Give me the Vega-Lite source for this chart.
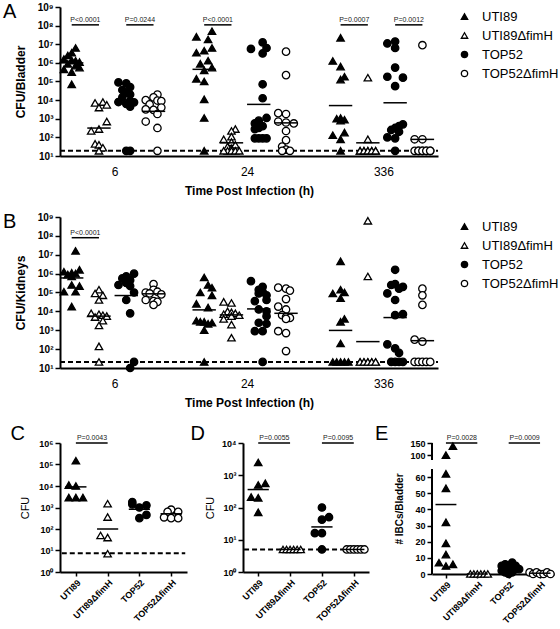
{
"$schema":"https://vega.github.io/schema/vega-lite/v6.json",
"padding":{"left":2,"top":2,"right":0,"bottom":0},
"config":{"font":"Liberation Sans","view":{"stroke":null},
"axis":{"domainColor":"black","domainWidth":2,"tickColor":"black","tickWidth":1.5,"tickSize":5,"labelColor":"black","titleColor":"black","grid":false},
"legend":{"labelFontSize":13,"symbolSize":40,"symbolStrokeColor":"black","symbolStrokeWidth":1.3,"rowPadding":5,"labelOffset":11,"padding":0},
"title":{"anchor":"start","frame":"bounds","fontSize":20,"fontWeight":"normal","offset":0,"color":"black"}},
"datasets":{
"pts":[
{"p":"A","t":"6","s":"U","j":1,"v":6.3e6},{"p":"A","t":"6","s":"U","j":0,"v":3.5e6},{"p":"A","t":"6","s":"U","j":-1,"v":2.5e6},{"p":"A","t":"6","s":"U","j":-2,"v":1.6e6},{"p":"A","t":"6","s":"U","j":0,"v":1.4e6},{"p":"A","t":"6","s":"U","j":1,"v":1.3e6},{"p":"A","t":"6","s":"U","j":2,"v":1.1e6},{"p":"A","t":"6","s":"U","j":-1,"v":8.9e5},{"p":"A","t":"6","s":"U","j":1,"v":7.1e5},{"p":"A","t":"6","s":"U","j":2,"v":5.6e5},{"p":"A","t":"6","s":"U","j":-2,"v":4.5e5},{"p":"A","t":"6","s":"U","j":0,"v":3.2e5},{"p":"A","t":"6","s":"U","j":0,"v":7.1e4},
{"p":"A","t":"6","s":"D","j":1,"v":7900},{"p":"A","t":"6","s":"D","j":-1,"v":7100},{"p":"A","t":"6","s":"D","j":2,"v":5600},{"p":"A","t":"6","s":"D","j":0,"v":4000},{"p":"A","t":"6","s":"D","j":2,"v":710},{"p":"A","t":"6","s":"D","j":0,"v":280},{"p":"A","t":"6","s":"D","j":-2,"v":220},{"p":"A","t":"6","s":"D","j":-1,"v":45},{"p":"A","t":"6","s":"D","j":0,"v":40},{"p":"A","t":"6","s":"D","j":1,"v":28},{"p":"A","t":"6","s":"D","j":0,"v":19},
{"p":"A","t":"6","s":"T","j":-2,"v":8.9e4},{"p":"A","t":"6","s":"T","j":0,"v":7.9e4},{"p":"A","t":"6","s":"T","j":1,"v":5e4},{"p":"A","t":"6","s":"T","j":-1,"v":3.5e4},{"p":"A","t":"6","s":"T","j":0,"v":2.5e4},{"p":"A","t":"6","s":"T","j":1,"v":2e4},{"p":"A","t":"6","s":"T","j":-1,"v":1.4e4},{"p":"A","t":"6","s":"T","j":1,"v":8900},{"p":"A","t":"6","s":"T","j":-2,"v":7900},{"p":"A","t":"6","s":"T","j":2,"v":7600},{"p":"A","t":"6","s":"T","j":0,"v":6300},{"p":"A","t":"6","s":"T","j":1,"v":4500},{"p":"A","t":"6","s":"T","j":0,"v":19},{"p":"A","t":"6","s":"T","j":1,"v":19},
{"p":"A","t":"6","s":"O","j":1,"v":2e4},{"p":"A","t":"6","s":"O","j":0,"v":1.4e4},{"p":"A","t":"6","s":"O","j":-2,"v":1e4},{"p":"A","t":"6","s":"O","j":1,"v":9500},{"p":"A","t":"6","s":"O","j":2,"v":8900},{"p":"A","t":"6","s":"O","j":-1,"v":5900},{"p":"A","t":"6","s":"O","j":2,"v":4000},{"p":"A","t":"6","s":"O","j":-2,"v":3200},{"p":"A","t":"6","s":"O","j":0,"v":3000},{"p":"A","t":"6","s":"O","j":1,"v":1800},{"p":"A","t":"6","s":"O","j":-2,"v":710},{"p":"A","t":"6","s":"O","j":1,"v":320},{"p":"A","t":"6","s":"O","j":1,"v":19},
{"p":"A","t":"24","s":"U","j":2,"v":5e7},{"p":"A","t":"24","s":"U","j":-2,"v":2.5e7},{"p":"A","t":"24","s":"U","j":1,"v":1.8e7},{"p":"A","t":"24","s":"U","j":2,"v":6.3e6},{"p":"A","t":"24","s":"U","j":0,"v":4.5e6},{"p":"A","t":"24","s":"U","j":-2,"v":3.5e6},{"p":"A","t":"24","s":"U","j":1,"v":1.3e6},{"p":"A","t":"24","s":"U","j":-1,"v":8.9e5},{"p":"A","t":"24","s":"U","j":2,"v":5.6e5},{"p":"A","t":"24","s":"U","j":0,"v":4e5},{"p":"A","t":"24","s":"U","j":-2,"v":1.4e5},{"p":"A","t":"24","s":"U","j":0,"v":1e5},{"p":"A","t":"24","s":"U","j":0,"v":1.1e4},{"p":"A","t":"24","s":"U","j":0,"v":1100},{"p":"A","t":"24","s":"U","j":0,"v":19},
{"p":"A","t":"24","s":"D","j":1,"v":280},{"p":"A","t":"24","s":"D","j":0,"v":220},{"p":"A","t":"24","s":"D","j":0,"v":110},{"p":"A","t":"24","s":"D","j":-2,"v":79},{"p":"A","t":"24","s":"D","j":0,"v":56},{"p":"A","t":"24","s":"D","j":1,"v":40},{"p":"A","t":"24","s":"D","j":-1,"v":32},{"p":"A","t":"24","s":"D","j":0,"v":25},{"p":"A","t":"24","s":"D","j":-1,"v":19},{"p":"A","t":"24","s":"D","j":0,"v":19},{"p":"A","t":"24","s":"D","j":1,"v":19},{"p":"A","t":"24","s":"D","j":-2,"v":19},{"p":"A","t":"24","s":"D","j":2,"v":19},
{"p":"A","t":"24","s":"T","j":1,"v":1.26e7},{"p":"A","t":"24","s":"T","j":2,"v":6.3e6},{"p":"A","t":"24","s":"T","j":-2,"v":5.6e6},{"p":"A","t":"24","s":"T","j":1,"v":3.2e6},{"p":"A","t":"24","s":"T","j":1,"v":7.1e4},{"p":"A","t":"24","s":"T","j":1,"v":1.26e4},{"p":"A","t":"24","s":"T","j":2,"v":1100},{"p":"A","t":"24","s":"T","j":0,"v":790},{"p":"A","t":"24","s":"T","j":-1,"v":560},{"p":"A","t":"24","s":"T","j":1,"v":400},{"p":"A","t":"24","s":"T","j":0,"v":320},{"p":"A","t":"24","s":"T","j":-1,"v":280},{"p":"A","t":"24","s":"T","j":-1,"v":89},{"p":"A","t":"24","s":"T","j":0,"v":89},{"p":"A","t":"24","s":"T","j":1,"v":89},{"p":"A","t":"24","s":"T","j":2,"v":89},
{"p":"A","t":"24","s":"O","j":0,"v":4e6},{"p":"A","t":"24","s":"O","j":0,"v":2.2e5},{"p":"A","t":"24","s":"O","j":-2,"v":2000},{"p":"A","t":"24","s":"O","j":0,"v":1800},{"p":"A","t":"24","s":"O","j":-2,"v":710},{"p":"A","t":"24","s":"O","j":0,"v":630},{"p":"A","t":"24","s":"O","j":2,"v":560},{"p":"A","t":"24","s":"O","j":0,"v":220},{"p":"A","t":"24","s":"O","j":0,"v":71},{"p":"A","t":"24","s":"O","j":-1,"v":32},{"p":"A","t":"24","s":"O","j":0,"v":22},{"p":"A","t":"24","s":"O","j":1,"v":19},{"p":"A","t":"24","s":"O","j":-1,"v":19},
{"p":"A","t":"336","s":"U","j":0,"v":2.2e7},{"p":"A","t":"336","s":"U","j":-2,"v":1.26e6},{"p":"A","t":"336","s":"U","j":0,"v":6.3e5},{"p":"A","t":"336","s":"U","j":1,"v":1.8e5},{"p":"A","t":"336","s":"U","j":0,"v":1.26e5},{"p":"A","t":"336","s":"U","j":0,"v":1100},{"p":"A","t":"336","s":"U","j":-1,"v":1000},{"p":"A","t":"336","s":"U","j":1,"v":890},{"p":"A","t":"336","s":"U","j":0,"v":790},{"p":"A","t":"336","s":"U","j":1,"v":180},{"p":"A","t":"336","s":"U","j":-2,"v":130},{"p":"A","t":"336","s":"U","j":0,"v":79},{"p":"A","t":"336","s":"U","j":0,"v":19},
{"p":"A","t":"336","s":"D","j":0,"v":1.6e5},{"p":"A","t":"336","s":"D","j":0,"v":79},{"p":"A","t":"336","s":"D","j":-2,"v":19},{"p":"A","t":"336","s":"D","j":-1,"v":19},{"p":"A","t":"336","s":"D","j":0,"v":19},{"p":"A","t":"336","s":"D","j":1,"v":19},{"p":"A","t":"336","s":"D","j":2,"v":19},{"p":"A","t":"336","s":"D","j":-2,"v":19},{"p":"A","t":"336","s":"D","j":-1,"v":19},{"p":"A","t":"336","s":"D","j":0,"v":19},{"p":"A","t":"336","s":"D","j":1,"v":19},{"p":"A","t":"336","s":"D","j":2,"v":19},
{"p":"A","t":"336","s":"T","j":0,"v":1.4e7},{"p":"A","t":"336","s":"T","j":-2,"v":1.1e7},{"p":"A","t":"336","s":"T","j":0,"v":6.3e6},{"p":"A","t":"336","s":"T","j":0,"v":5.6e5},{"p":"A","t":"336","s":"T","j":-2,"v":1.8e5},{"p":"A","t":"336","s":"T","j":2,"v":1.6e5},{"p":"A","t":"336","s":"T","j":0,"v":5.6e4},{"p":"A","t":"336","s":"T","j":2,"v":500},{"p":"A","t":"336","s":"T","j":1,"v":400},{"p":"A","t":"336","s":"T","j":0,"v":320},{"p":"A","t":"336","s":"T","j":-1,"v":250},{"p":"A","t":"336","s":"T","j":1,"v":200},{"p":"A","t":"336","s":"T","j":-2,"v":100},{"p":"A","t":"336","s":"T","j":0,"v":89},{"p":"A","t":"336","s":"T","j":0,"v":19},
{"p":"A","t":"336","s":"O","j":0,"v":8.9e6},{"p":"A","t":"336","s":"O","j":-2,"v":79},{"p":"A","t":"336","s":"O","j":0,"v":79},{"p":"A","t":"336","s":"O","j":-2,"v":19},{"p":"A","t":"336","s":"O","j":-1,"v":19},{"p":"A","t":"336","s":"O","j":0,"v":19},{"p":"A","t":"336","s":"O","j":1,"v":19},{"p":"A","t":"336","s":"O","j":2,"v":19},{"p":"A","t":"336","s":"O","j":-1,"v":19},{"p":"A","t":"336","s":"O","j":0,"v":19},{"p":"A","t":"336","s":"O","j":1,"v":19},{"p":"A","t":"336","s":"O","j":2,"v":19},
{"p":"B","t":"6","s":"U","j":1,"v":1.6e7},{"p":"B","t":"6","s":"U","j":2,"v":1.6e6},{"p":"B","t":"6","s":"U","j":-2,"v":1.26e6},{"p":"B","t":"6","s":"U","j":0,"v":1.1e6},{"p":"B","t":"6","s":"U","j":1,"v":1e6},{"p":"B","t":"6","s":"U","j":-1,"v":8.9e5},{"p":"B","t":"6","s":"U","j":0,"v":7.1e5},{"p":"B","t":"6","s":"U","j":0,"v":2.5e5},{"p":"B","t":"6","s":"U","j":2,"v":2.2e5},{"p":"B","t":"6","s":"U","j":-2,"v":1.1e5},{"p":"B","t":"6","s":"U","j":1,"v":1.1e5},{"p":"B","t":"6","s":"U","j":0,"v":1.8e4},
{"p":"B","t":"6","s":"D","j":0,"v":1.4e5},{"p":"B","t":"6","s":"D","j":-1,"v":8.9e4},{"p":"B","t":"6","s":"D","j":1,"v":7.1e4},{"p":"B","t":"6","s":"D","j":0,"v":4e4},{"p":"B","t":"6","s":"D","j":-2,"v":7900},{"p":"B","t":"6","s":"D","j":0,"v":7100},{"p":"B","t":"6","s":"D","j":1,"v":6300},{"p":"B","t":"6","s":"D","j":2,"v":5600},{"p":"B","t":"6","s":"D","j":-1,"v":5000},{"p":"B","t":"6","s":"D","j":1,"v":3200},{"p":"B","t":"6","s":"D","j":0,"v":1800},{"p":"B","t":"6","s":"D","j":0,"v":140},{"p":"B","t":"6","s":"D","j":0,"v":21},
{"p":"B","t":"6","s":"T","j":2,"v":1e6},{"p":"B","t":"6","s":"T","j":0,"v":7.1e5},{"p":"B","t":"6","s":"T","j":-1,"v":5.6e5},{"p":"B","t":"6","s":"T","j":1,"v":4.5e5},{"p":"B","t":"6","s":"T","j":0,"v":3.2e5},{"p":"B","t":"6","s":"T","j":-2,"v":2.5e5},{"p":"B","t":"6","s":"T","j":1,"v":2.2e5},{"p":"B","t":"6","s":"T","j":2,"v":1e5},{"p":"B","t":"6","s":"T","j":0,"v":4e4},{"p":"B","t":"6","s":"T","j":1,"v":7900},{"p":"B","t":"6","s":"T","j":2,"v":21},{"p":"B","t":"6","s":"T","j":1,"v":10},
{"p":"B","t":"6","s":"O","j":0,"v":2.8e5},{"p":"B","t":"6","s":"O","j":0,"v":1.4e5},{"p":"B","t":"6","s":"O","j":1,"v":1.1e5},{"p":"B","t":"6","s":"O","j":-2,"v":1e5},{"p":"B","t":"6","s":"O","j":-1,"v":8.9e4},{"p":"B","t":"6","s":"O","j":2,"v":7.9e4},{"p":"B","t":"6","s":"O","j":-2,"v":4e4},{"p":"B","t":"6","s":"O","j":0,"v":3.5e4},{"p":"B","t":"6","s":"O","j":1,"v":3.2e4},{"p":"B","t":"6","s":"O","j":0,"v":2.2e4},
{"p":"B","t":"24","s":"U","j":0,"v":6.3e5},{"p":"B","t":"24","s":"U","j":1,"v":2.5e5},{"p":"B","t":"24","s":"U","j":2,"v":1.8e5},{"p":"B","t":"24","s":"U","j":-1,"v":1e5},{"p":"B","t":"24","s":"U","j":2,"v":7.1e4},{"p":"B","t":"24","s":"U","j":-2,"v":2.5e4},{"p":"B","t":"24","s":"U","j":1,"v":1.6e4},{"p":"B","t":"24","s":"U","j":-2,"v":3200},{"p":"B","t":"24","s":"U","j":-1,"v":2800},{"p":"B","t":"24","s":"U","j":0,"v":2800},{"p":"B","t":"24","s":"U","j":2,"v":2500},{"p":"B","t":"24","s":"U","j":1,"v":2200},{"p":"B","t":"24","s":"U","j":0,"v":1000},{"p":"B","t":"24","s":"U","j":0,"v":21},
{"p":"B","t":"24","s":"D","j":-2,"v":3.2e4},{"p":"B","t":"24","s":"D","j":0,"v":2.8e4},{"p":"B","t":"24","s":"D","j":-1,"v":1e4},{"p":"B","t":"24","s":"D","j":0,"v":8900},{"p":"B","t":"24","s":"D","j":1,"v":7900},{"p":"B","t":"24","s":"D","j":-2,"v":7100},{"p":"B","t":"24","s":"D","j":2,"v":6300},{"p":"B","t":"24","s":"D","j":0,"v":5600},{"p":"B","t":"24","s":"D","j":-2,"v":4000},{"p":"B","t":"24","s":"D","j":0,"v":2000},{"p":"B","t":"24","s":"D","j":0,"v":400},
{"p":"B","t":"24","s":"T","j":-2,"v":4e5},{"p":"B","t":"24","s":"T","j":1,"v":2e5},{"p":"B","t":"24","s":"T","j":0,"v":1.4e5},{"p":"B","t":"24","s":"T","j":1,"v":1.1e5},{"p":"B","t":"24","s":"T","j":0,"v":8.9e4},{"p":"B","t":"24","s":"T","j":2,"v":7.1e4},{"p":"B","t":"24","s":"T","j":2,"v":4e4},{"p":"B","t":"24","s":"T","j":-1,"v":3.5e4},{"p":"B","t":"24","s":"T","j":0,"v":1.26e4},{"p":"B","t":"24","s":"T","j":2,"v":1e4},{"p":"B","t":"24","s":"T","j":2,"v":5600},{"p":"B","t":"24","s":"T","j":0,"v":2500},{"p":"B","t":"24","s":"T","j":2,"v":2200},{"p":"B","t":"24","s":"T","j":-1,"v":890},{"p":"B","t":"24","s":"T","j":1,"v":890},{"p":"B","t":"24","s":"T","j":1,"v":21},
{"p":"B","t":"24","s":"O","j":-2,"v":1.8e5},{"p":"B","t":"24","s":"O","j":0,"v":1.6e5},{"p":"B","t":"24","s":"O","j":1,"v":1.26e5},{"p":"B","t":"24","s":"O","j":0,"v":4.5e4},{"p":"B","t":"24","s":"O","j":-2,"v":1.8e4},{"p":"B","t":"24","s":"O","j":0,"v":1.26e4},{"p":"B","t":"24","s":"O","j":-1,"v":6300},{"p":"B","t":"24","s":"O","j":0,"v":5000},{"p":"B","t":"24","s":"O","j":1,"v":4500},{"p":"B","t":"24","s":"O","j":0,"v":4000},{"p":"B","t":"24","s":"O","j":-2,"v":890},{"p":"B","t":"24","s":"O","j":0,"v":710},{"p":"B","t":"24","s":"O","j":0,"v":79},
{"p":"B","t":"336","s":"U","j":0,"v":4.5e6},{"p":"B","t":"336","s":"U","j":0,"v":1.4e5},{"p":"B","t":"336","s":"U","j":1,"v":1e5},{"p":"B","t":"336","s":"U","j":-2,"v":8.9e4},{"p":"B","t":"336","s":"U","j":0,"v":5e4},{"p":"B","t":"336","s":"U","j":1,"v":4000},{"p":"B","t":"336","s":"U","j":0,"v":2800},{"p":"B","t":"336","s":"U","j":0,"v":200},{"p":"B","t":"336","s":"U","j":-2,"v":21},{"p":"B","t":"336","s":"U","j":-1,"v":21},{"p":"B","t":"336","s":"U","j":0,"v":21},{"p":"B","t":"336","s":"U","j":1,"v":21},{"p":"B","t":"336","s":"U","j":2,"v":21},
{"p":"B","t":"336","s":"D","j":0,"v":6.3e8},{"p":"B","t":"336","s":"D","j":0,"v":7.1e5},{"p":"B","t":"336","s":"D","j":-2,"v":21},{"p":"B","t":"336","s":"D","j":-1,"v":21},{"p":"B","t":"336","s":"D","j":0,"v":21},{"p":"B","t":"336","s":"D","j":1,"v":21},{"p":"B","t":"336","s":"D","j":2,"v":21},{"p":"B","t":"336","s":"D","j":-2,"v":21},{"p":"B","t":"336","s":"D","j":-1,"v":21},{"p":"B","t":"336","s":"D","j":0,"v":21},{"p":"B","t":"336","s":"D","j":1,"v":21},{"p":"B","t":"336","s":"D","j":2,"v":21},
{"p":"B","t":"336","s":"T","j":0,"v":1.6e6},{"p":"B","t":"336","s":"T","j":0,"v":2.8e5},{"p":"B","t":"336","s":"T","j":-1,"v":2.5e5},{"p":"B","t":"336","s":"T","j":2,"v":2e5},{"p":"B","t":"336","s":"T","j":1,"v":1.6e5},{"p":"B","t":"336","s":"T","j":-2,"v":8.9e4},{"p":"B","t":"336","s":"T","j":0,"v":4e4},{"p":"B","t":"336","s":"T","j":2,"v":7100},{"p":"B","t":"336","s":"T","j":0,"v":6300},{"p":"B","t":"336","s":"T","j":-2,"v":180},{"p":"B","t":"336","s":"T","j":0,"v":110},{"p":"B","t":"336","s":"T","j":1,"v":63},{"p":"B","t":"336","s":"T","j":-1,"v":21},{"p":"B","t":"336","s":"T","j":0,"v":21},{"p":"B","t":"336","s":"T","j":1,"v":21},{"p":"B","t":"336","s":"T","j":2,"v":21},
{"p":"B","t":"336","s":"O","j":0,"v":1.6e5},{"p":"B","t":"336","s":"O","j":0,"v":7.1e4},{"p":"B","t":"336","s":"O","j":0,"v":2.2e4},{"p":"B","t":"336","s":"O","j":-2,"v":320},{"p":"B","t":"336","s":"O","j":0,"v":250},{"p":"B","t":"336","s":"O","j":-2,"v":21},{"p":"B","t":"336","s":"O","j":-1,"v":21},{"p":"B","t":"336","s":"O","j":0,"v":21},{"p":"B","t":"336","s":"O","j":1,"v":21},{"p":"B","t":"336","s":"O","j":2,"v":21},
{"p":"C","s":"U","j":0,"v":1.5e5},{"p":"C","s":"U","j":-2,"v":1.1e4},{"p":"C","s":"U","j":0,"v":1e4},{"p":"C","s":"U","j":-2,"v":2900},{"p":"C","s":"U","j":0,"v":2900},{"p":"C","s":"U","j":2,"v":2900},
{"p":"C","s":"D","j":0,"v":1500},{"p":"C","s":"D","j":0,"v":360},{"p":"C","s":"D","j":-2,"v":50},{"p":"C","s":"D","j":0,"v":40},{"p":"C","s":"D","j":0,"v":7.1},
{"p":"C","s":"T","j":-2,"v":1800},{"p":"C","s":"T","j":-2,"v":1400},{"p":"C","s":"T","j":2,"v":1260},{"p":"C","s":"T","j":0,"v":1000},{"p":"C","s":"T","j":2,"v":450},{"p":"C","s":"T","j":0,"v":320},
{"p":"C","s":"O","j":0,"v":790},{"p":"C","s":"O","j":-1,"v":630},{"p":"C","s":"O","j":2,"v":630},{"p":"C","s":"O","j":-2,"v":350},{"p":"C","s":"O","j":0,"v":320},{"p":"C","s":"O","j":2,"v":320},
{"p":"D","s":"U","j":0,"v":2500},{"p":"D","s":"U","j":2,"v":560},{"p":"D","s":"U","j":0,"v":500},{"p":"D","s":"U","j":-2,"v":210},{"p":"D","s":"U","j":0,"v":200},{"p":"D","s":"U","j":0,"v":71},
{"p":"D","s":"D","j":-2,"v":5},{"p":"D","s":"D","j":-1,"v":5},{"p":"D","s":"D","j":0,"v":5},{"p":"D","s":"D","j":1,"v":5},{"p":"D","s":"D","j":2,"v":5},{"p":"D","s":"D","j":3,"v":5},
{"p":"D","s":"T","j":0,"v":100},{"p":"D","s":"T","j":2,"v":50},{"p":"D","s":"T","j":0,"v":42},{"p":"D","s":"T","j":-2,"v":16},{"p":"D","s":"T","j":0,"v":16},{"p":"D","s":"T","j":0,"v":5},
{"p":"D","s":"O","j":-2,"v":5},{"p":"D","s":"O","j":-1,"v":5},{"p":"D","s":"O","j":0,"v":5},{"p":"D","s":"O","j":1,"v":5},{"p":"D","s":"O","j":2,"v":5},{"p":"D","s":"O","j":3,"v":5},
{"p":"E","s":"U","j":2,"v":137},{"p":"E","s":"U","j":0,"v":100},{"p":"E","s":"U","j":0,"v":62},{"p":"E","s":"U","j":0,"v":53},{"p":"E","s":"U","j":0,"v":32},{"p":"E","s":"U","j":0,"v":19},{"p":"E","s":"U","j":0,"v":12},{"p":"E","s":"U","j":-2,"v":7},{"p":"E","s":"U","j":0,"v":5},{"p":"E","s":"U","j":2,"v":6},
{"p":"E","s":"D","j":-2,"v":0},{"p":"E","s":"D","j":-1,"v":0},{"p":"E","s":"D","j":0,"v":0},{"p":"E","s":"D","j":1,"v":0},{"p":"E","s":"D","j":2,"v":0},{"p":"E","s":"D","j":3,"v":0},
{"p":"E","s":"T","j":-2,"v":5},{"p":"E","s":"T","j":-1,"v":6},{"p":"E","s":"T","j":0,"v":4},{"p":"E","s":"T","j":1,"v":7},{"p":"E","s":"T","j":2,"v":5},{"p":"E","s":"T","j":3,"v":3},{"p":"E","s":"T","j":-2,"v":2},{"p":"E","s":"T","j":-1,"v":1},{"p":"E","s":"T","j":0,"v":2},{"p":"E","s":"T","j":1,"v":1},{"p":"E","s":"T","j":2,"v":3},{"p":"E","s":"T","j":0,"v":0},
{"p":"E","s":"O","j":-3,"v":1},{"p":"E","s":"O","j":-2,"v":0},{"p":"E","s":"O","j":-1,"v":1},{"p":"E","s":"O","j":0,"v":0},{"p":"E","s":"O","j":1,"v":0},{"p":"E","s":"O","j":2,"v":1},{"p":"E","s":"O","j":3,"v":0}
],
"med":[
{"p":"A","t":"6","s":"U","v":1e6},{"p":"A","t":"6","s":"D","v":316},{"p":"A","t":"6","s":"T","v":7900},{"p":"A","t":"6","s":"O","v":2500},
{"p":"A","t":"24","s":"U","v":4.5e5},{"p":"A","t":"24","s":"D","v":51},{"p":"A","t":"24","s":"T","v":5900},{"p":"A","t":"24","s":"O","v":600},
{"p":"A","t":"336","s":"U","v":5100},{"p":"A","t":"336","s":"D","v":51},{"p":"A","t":"336","s":"T","v":7200},{"p":"A","t":"336","s":"O","v":78},
{"p":"B","t":"6","s":"U","v":5.9e5},{"p":"B","t":"6","s":"D","v":5600},{"p":"B","t":"6","s":"T","v":6.9e4},{"p":"B","t":"6","s":"O","v":8.5e4},
{"p":"B","t":"24","s":"U","v":1.2e4},{"p":"B","t":"24","s":"D","v":6500},{"p":"B","t":"24","s":"T","v":1.35e4},{"p":"B","t":"24","s":"O","v":7900},
{"p":"B","t":"336","s":"U","v":980},{"p":"B","t":"336","s":"D","v":250},{"p":"B","t":"336","s":"T","v":4700},{"p":"B","t":"336","s":"O","v":280},
{"p":"C","s":"U","v":9100},{"p":"C","s":"D","v":100},{"p":"C","s":"T","v":830},{"p":"C","s":"O","v":510},
{"p":"D","s":"U","v":360},{"p":"D","s":"D","v":5},{"p":"D","s":"T","v":25},{"p":"D","s":"O","v":5},
{"p":"E","s":"U","v":43},{"p":"E","s":"D","v":0},{"p":"E","s":"T","v":3},{"p":"E","s":"O","v":0.5}
],
"sig":[
{"p":"A","t":"6","s1":"U","s2":"D","lab":"P<0.0001","v":1.1e8},{"p":"A","t":"6","s1":"T","s2":"O","lab":"P=0.0244","v":1.1e8},{"p":"A","t":"24","s1":"U","s2":"D","lab":"P<0.0001","v":1.1e8},{"p":"A","t":"336","s1":"U","s2":"D","lab":"P=0.0007","v":1.1e8},{"p":"A","t":"336","s1":"T","s2":"O","lab":"P=0.0012","v":1.1e8},
{"p":"B","t":"6","s1":"U","s2":"D","lab":"P<0.0001","v":8e7},
{"p":"C","s1":"U","s2":"D","lab":"P=0.0043","v":1e6},
{"p":"D","s1":"U","s2":"D","lab":"P=0.0055","v":1e4},{"p":"D","s1":"T","s2":"O","lab":"P=0.0095","v":1e4},
{"p":"E","s1":"U","s2":"D","lab":"P=0.0028","v":150},{"p":"E","s1":"T","s2":"O","lab":"P=0.0009","v":150}
],
"sep":[{"p":"A","k":"s1"},{"p":"A","k":"s2"},{"p":"B","k":"s1"},{"p":"B","k":"s2"}],
"lim":[{"p":"A","v":19},{"p":"B","v":21},{"p":"C","v":7.4},{"p":"D","v":5}],
"brk":[{"p":"E","v":0,"v2":65},{"p":"E","v":80,"v2":150}]
},
"resolve":{"scale":{"shape":"independent","fill":"independent","stroke":"independent"},"legend":{"shape":"independent","fill":"independent","stroke":"independent"}},
"spacing":16,
"vconcat":[
{"width":378,"height":149,"title":{"text":"A","dx":-12,"dy":24},
"encoding":{
"x":{"field":"k","type":"nominal","scale":{"type":"point","padding":0,"domain":["6|U|-3","6|U|-2","6|U|-1","6|U|0","6|U|1","6|U|2","6|U|3","6|D|-3","6|D|-2","6|D|-1","6|D|0","6|D|1","6|D|2","6|D|3","6|T|-3","6|T|-2","6|T|-1","6|T|0","6|T|1","6|T|2","6|T|3","6|O|-3","6|O|-2","6|O|-1","6|O|0","6|O|1","6|O|2","6|O|3","g1","g2","g3","s1","g4","g5","24|U|-3","24|U|-2","24|U|-1","24|U|0","24|U|1","24|U|2","24|U|3","24|D|-3","24|D|-2","24|D|-1","24|D|0","24|D|1","24|D|2","24|D|3","24|T|-3","24|T|-2","24|T|-1","24|T|0","24|T|1","24|T|2","24|T|3","24|O|-3","24|O|-2","24|O|-1","24|O|0","24|O|1","24|O|2","24|O|3","g6","g7","g8","g9","s2","g10","g11","336|U|-3","336|U|-2","336|U|-1","336|U|0","336|U|1","336|U|2","336|U|3","336|D|-3","336|D|-2","336|D|-1","336|D|0","336|D|1","336|D|2","336|D|3","336|T|-3","336|T|-2","336|T|-1","336|T|0","336|T|1","336|T|2","336|T|3","336|O|-3","336|O|-2","336|O|-1","336|O|0","336|O|1","336|O|2","336|O|3","g12"]},
"axis":{"values":["6|T|-3","24|T|-3","336|T|-3"],"labelExpr":"split(datum.value,'|')[0]","ticks":false,"labelAngle":0,"labelFontSize":12,"labelPadding":10,"labelOverlap":false,"title":"Time Post Infection (h)","titleFontSize":12,"titleFontWeight":"bold","titlePadding":8}},
"y":{"field":"v","type":"quantitative","scale":{"type":"log","domain":[10,1e9],"nice":false},
"axis":{"values":[10,100,1000,10000,100000,1e6,1e7,1e8,1e9],"labelExpr":"'10' + substring('⁰¹²³⁴⁵⁶⁷⁸⁹', round(log(datum.value)/LN10), round(log(datum.value)/LN10)+1)","labelFontWeight":"bold","labelFontSize":10,"labelPadding":2,"title":"CFU/Bladder","titleFontSize":12,"titleFontWeight":"bold","titlePadding":9}}},
"layer":[
{"data":{"name":"sep"},"transform":[{"filter":"datum.p=='A'"}],"mark":{"type":"rule","strokeDash":[3,2],"stroke":"#777","strokeWidth":0.8},"encoding":{"y":{"datum":10},"y2":{"datum":1e9}}},
{"data":{"name":"lim"},"transform":[{"filter":"datum.p=='A'"},{"calculate":"'6|U|-3'","as":"k"},{"calculate":"'g12'","as":"k2"}],"mark":{"type":"rule","strokeDash":[5,3],"stroke":"black","strokeWidth":2},"encoding":{"x2":{"field":"k2"}}},
{"data":{"name":"pts"},"transform":[{"filter":"datum.p=='A'"},{"calculate":"datum.t+'|'+datum.s+'|'+datum.j","as":"k"}],"mark":{"type":"point","filled":true,"strokeWidth":1.3,"size":55,"opacity":1},
"encoding":{"shape":{"field":"s","type":"nominal","scale":{"domain":["U","D","T","O"],"range":["triangle-up","triangle-up","circle","circle"]},"legend":{"title":null,"orient":"none","legendX":398,"legendY":3,"labelExpr":"datum.label=='U'?'UTI89':datum.label=='D'?'UTI89ΔfimH':datum.label=='T'?'TOP52':'TOP52ΔfimH'"}},
"fill":{"field":"s","type":"nominal","scale":{"domain":["U","D","T","O"],"range":["black","white","black","white"]},"legend":{"title":null,"orient":"none","legendX":398,"legendY":3,"labelExpr":"datum.label=='U'?'UTI89':datum.label=='D'?'UTI89ΔfimH':datum.label=='T'?'TOP52':'TOP52ΔfimH'"}},
"stroke":{"field":"s","type":"nominal","scale":{"domain":["U","D","T","O"],"range":["black","black","black","black"]},"legend":{"title":null,"orient":"none","legendX":398,"legendY":3,"labelExpr":"datum.label=='U'?'UTI89':datum.label=='D'?'UTI89ΔfimH':datum.label=='T'?'TOP52':'TOP52ΔfimH'"}}}},
{"data":{"name":"med"},"transform":[{"filter":"datum.p=='A'"},{"calculate":"datum.t+'|'+datum.s+'|-3'","as":"k"},{"calculate":"datum.t+'|'+datum.s+'|3'","as":"k2"}],"mark":{"type":"rule","stroke":"black","strokeWidth":1.5},"encoding":{"x2":{"field":"k2"}}},
{"data":{"name":"sig"},"transform":[{"filter":"datum.p=='A'"},{"calculate":"datum.t+'|'+datum.s1+'|0'","as":"k"},{"calculate":"datum.t+'|'+datum.s2+'|0'","as":"k2"}],"mark":{"type":"rule","stroke":"black","strokeWidth":1.5},"encoding":{"x2":{"field":"k2"}}},
{"data":{"name":"sig"},"transform":[{"filter":"datum.p=='A'"},{"calculate":"datum.t+'|'+datum.s1+'|3'","as":"k"}],"mark":{"type":"text","fontSize":7,"dx":2,"dy":-2,"baseline":"bottom","fill":"#222"},"encoding":{"text":{"field":"lab"}}}
]},
{"width":378,"height":151,"title":{"text":"B","dx":-12,"dy":24},
"encoding":{
"x":{"field":"k","type":"nominal","scale":{"type":"point","padding":0,"domain":["6|U|-3","6|U|-2","6|U|-1","6|U|0","6|U|1","6|U|2","6|U|3","6|D|-3","6|D|-2","6|D|-1","6|D|0","6|D|1","6|D|2","6|D|3","6|T|-3","6|T|-2","6|T|-1","6|T|0","6|T|1","6|T|2","6|T|3","6|O|-3","6|O|-2","6|O|-1","6|O|0","6|O|1","6|O|2","6|O|3","g1","g2","g3","s1","g4","g5","24|U|-3","24|U|-2","24|U|-1","24|U|0","24|U|1","24|U|2","24|U|3","24|D|-3","24|D|-2","24|D|-1","24|D|0","24|D|1","24|D|2","24|D|3","24|T|-3","24|T|-2","24|T|-1","24|T|0","24|T|1","24|T|2","24|T|3","24|O|-3","24|O|-2","24|O|-1","24|O|0","24|O|1","24|O|2","24|O|3","g6","g7","g8","g9","s2","g10","g11","336|U|-3","336|U|-2","336|U|-1","336|U|0","336|U|1","336|U|2","336|U|3","336|D|-3","336|D|-2","336|D|-1","336|D|0","336|D|1","336|D|2","336|D|3","336|T|-3","336|T|-2","336|T|-1","336|T|0","336|T|1","336|T|2","336|T|3","336|O|-3","336|O|-2","336|O|-1","336|O|0","336|O|1","336|O|2","336|O|3","g12"]},
"axis":{"values":["6|T|-3","24|T|-3","336|T|-3"],"labelExpr":"split(datum.value,'|')[0]","ticks":false,"labelAngle":0,"labelFontSize":12,"labelPadding":10,"labelOverlap":false,"title":"Time Post Infection (h)","titleFontSize":12,"titleFontWeight":"bold","titlePadding":8}},
"y":{"field":"v","type":"quantitative","scale":{"type":"log","domain":[10,1e9],"nice":false},
"axis":{"values":[10,100,1000,10000,100000,1e6,1e7,1e8,1e9],"labelExpr":"'10' + substring('⁰¹²³⁴⁵⁶⁷⁸⁹', round(log(datum.value)/LN10), round(log(datum.value)/LN10)+1)","labelFontWeight":"bold","labelFontSize":10,"labelPadding":2,"title":"CFU/Kidneys","titleFontSize":12,"titleFontWeight":"bold","titlePadding":9}}},
"layer":[
{"data":{"name":"sep"},"transform":[{"filter":"datum.p=='B'"}],"mark":{"type":"rule","strokeDash":[3,2],"stroke":"#777","strokeWidth":0.8},"encoding":{"y":{"datum":10},"y2":{"datum":1e9}}},
{"data":{"name":"lim"},"transform":[{"filter":"datum.p=='B'"},{"calculate":"'6|U|-3'","as":"k"},{"calculate":"'g12'","as":"k2"}],"mark":{"type":"rule","strokeDash":[5,3],"stroke":"black","strokeWidth":2},"encoding":{"x2":{"field":"k2"}}},
{"data":{"name":"pts"},"transform":[{"filter":"datum.p=='B'"},{"calculate":"datum.t+'|'+datum.s+'|'+datum.j","as":"k"}],"mark":{"type":"point","filled":true,"strokeWidth":1.3,"size":55,"opacity":1},
"encoding":{"shape":{"field":"s","type":"nominal","scale":{"domain":["U","D","T","O"],"range":["triangle-up","triangle-up","circle","circle"]},"legend":{"title":null,"orient":"none","legendX":398,"legendY":3,"labelExpr":"datum.label=='U'?'UTI89':datum.label=='D'?'UTI89ΔfimH':datum.label=='T'?'TOP52':'TOP52ΔfimH'"}},
"fill":{"field":"s","type":"nominal","scale":{"domain":["U","D","T","O"],"range":["black","white","black","white"]},"legend":{"title":null,"orient":"none","legendX":398,"legendY":3,"labelExpr":"datum.label=='U'?'UTI89':datum.label=='D'?'UTI89ΔfimH':datum.label=='T'?'TOP52':'TOP52ΔfimH'"}},
"stroke":{"field":"s","type":"nominal","scale":{"domain":["U","D","T","O"],"range":["black","black","black","black"]},"legend":{"title":null,"orient":"none","legendX":398,"legendY":3,"labelExpr":"datum.label=='U'?'UTI89':datum.label=='D'?'UTI89ΔfimH':datum.label=='T'?'TOP52':'TOP52ΔfimH'"}}}},
{"data":{"name":"med"},"transform":[{"filter":"datum.p=='B'"},{"calculate":"datum.t+'|'+datum.s+'|-3'","as":"k"},{"calculate":"datum.t+'|'+datum.s+'|3'","as":"k2"}],"mark":{"type":"rule","stroke":"black","strokeWidth":1.5},"encoding":{"x2":{"field":"k2"}}},
{"data":{"name":"sig"},"transform":[{"filter":"datum.p=='B'"},{"calculate":"datum.t+'|'+datum.s1+'|0'","as":"k"},{"calculate":"datum.t+'|'+datum.s2+'|0'","as":"k2"}],"mark":{"type":"rule","stroke":"black","strokeWidth":1.5},"encoding":{"x2":{"field":"k2"}}},
{"data":{"name":"sig"},"transform":[{"filter":"datum.p=='B'"},{"calculate":"datum.t+'|'+datum.s1+'|3'","as":"k"}],"mark":{"type":"text","fontSize":7,"dx":2,"dy":-2,"baseline":"bottom","fill":"#222"},"encoding":{"text":{"field":"lab"}}}
]},
{"spacing":3,"hconcat":[
{"width":127,"height":129,"title":{"text":"C","dx":-9,"dy":14},
"encoding":{
"x":{"field":"k","type":"nominal","scale":{"type":"point","padding":0.5,"domain":["U|-4","U|-3","U|-2","U|-1","U|0","U|1","U|2","U|3","U|4","D|-4","D|-3","D|-2","D|-1","D|0","D|1","D|2","D|3","D|4","T|-4","T|-3","T|-2","T|-1","T|0","T|1","T|2","T|3","T|4","O|-4","O|-3","O|-2","O|-1","O|0","O|1","O|2","O|3","O|4"]},
"axis":{"values":["U|0","D|0","T|0","O|0"],"labelExpr":"datum.value=='U|0'?'UTI89':datum.value=='D|0'?'UTI89ΔfimH':datum.value=='T|0'?'TOP52':'TOP52ΔfimH'","labelAngle":-45,"labelAlign":"right","labelBaseline":"top","labelFontSize":9,"labelFontWeight":"bold","tickSize":4,"labelOverlap":false,"title":null}},
"y":{"field":"v","type":"quantitative","scale":{"type":"log","domain":[1,1e6],"nice":false},
"axis":{"values":[1,10,100,1000,10000,100000,1e6],"labelExpr":"'10' + substring('⁰¹²³⁴⁵⁶⁷⁸⁹', round(log(datum.value)/LN10), round(log(datum.value)/LN10)+1)","labelFontWeight":"bold","labelFontSize":9,"labelPadding":2,"title":"CFU","titleFontSize":11,"titleFontWeight":"normal","titlePadding":8}}},
"layer":[
{"data":{"name":"lim"},"transform":[{"filter":"datum.p=='C'"},{"calculate":"'U|-4'","as":"k"},{"calculate":"'O|4'","as":"k2"}],"mark":{"type":"rule","strokeDash":[5,3],"stroke":"black","strokeWidth":2},"encoding":{"x2":{"field":"k2"}}},
{"data":{"name":"pts"},"transform":[{"filter":"datum.p=='C'"},{"calculate":"datum.s+'|'+datum.j","as":"k"}],"mark":{"type":"point","filled":true,"stroke":"black","strokeWidth":1.3,"size":55,"opacity":1},
"encoding":{"shape":{"field":"s","type":"nominal","scale":{"domain":["U","D","T","O"],"range":["triangle-up","triangle-up","circle","circle"]},"legend":null},
"fill":{"field":"s","type":"nominal","scale":{"domain":["U","D","T","O"],"range":["black","white","black","white"]},"legend":null}}},
{"data":{"name":"med"},"transform":[{"filter":"datum.p=='C'"},{"calculate":"datum.s+'|-3'","as":"k"},{"calculate":"datum.s+'|3'","as":"k2"}],"mark":{"type":"rule","stroke":"black","strokeWidth":1.5},"encoding":{"x2":{"field":"k2"}}},
{"data":{"name":"sig"},"transform":[{"filter":"datum.p=='C'"},{"calculate":"datum.s1+'|0'","as":"k"},{"calculate":"datum.s2+'|0'","as":"k2"}],"mark":{"type":"rule","stroke":"black","strokeWidth":1.5},"encoding":{"x2":{"field":"k2"}}},
{"data":{"name":"sig"},"transform":[{"filter":"datum.p=='C'"},{"calculate":"datum.s1+'|4'","as":"k"}],"mark":{"type":"text","fontSize":7,"dx":2,"dy":-2,"baseline":"bottom","fill":"#222"},"encoding":{"text":{"field":"lab"}}}
]},
{"width":126,"height":129,"title":{"text":"D","dx":-14,"dy":14},
"encoding":{
"x":{"field":"k","type":"nominal","scale":{"type":"point","padding":0.3,"domain":["U|-4","U|-3","U|-2","U|-1","U|0","U|1","U|2","U|3","U|4","D|-4","D|-3","D|-2","D|-1","D|0","D|1","D|2","D|3","D|4","T|-4","T|-3","T|-2","T|-1","T|0","T|1","T|2","T|3","T|4","O|-4","O|-3","O|-2","O|-1","O|0","O|1","O|2","O|3","O|4"]},
"axis":{"values":["U|0","D|0","T|0","O|0"],"labelExpr":"datum.value=='U|0'?'UTI89':datum.value=='D|0'?'UTI89ΔfimH':datum.value=='T|0'?'TOP52':'TOP52ΔfimH'","labelAngle":-45,"labelAlign":"right","labelBaseline":"top","labelFontSize":9,"labelFontWeight":"bold","tickSize":4,"labelOverlap":false,"title":null}},
"y":{"field":"v","type":"quantitative","scale":{"type":"log","domain":[1,1e4],"nice":false},
"axis":{"values":[1,10,100,1000,10000],"labelExpr":"'10' + substring('⁰¹²³⁴⁵⁶⁷⁸⁹', round(log(datum.value)/LN10), round(log(datum.value)/LN10)+1)","labelFontWeight":"bold","labelFontSize":9,"labelPadding":2,"title":"CFU","titleFontSize":11,"titleFontWeight":"normal","titlePadding":6}}},
"layer":[
{"data":{"name":"lim"},"transform":[{"filter":"datum.p=='D'"},{"calculate":"'U|-4'","as":"k"},{"calculate":"'O|4'","as":"k2"}],"mark":{"type":"rule","strokeDash":[5,3],"stroke":"black","strokeWidth":2},"encoding":{"x2":{"field":"k2"}}},
{"data":{"name":"pts"},"transform":[{"filter":"datum.p=='D'"},{"calculate":"datum.s+'|'+datum.j","as":"k"}],"mark":{"type":"point","filled":true,"stroke":"black","strokeWidth":1.3,"size":55,"opacity":1},
"encoding":{"shape":{"field":"s","type":"nominal","scale":{"domain":["U","D","T","O"],"range":["triangle-up","triangle-up","circle","circle"]},"legend":null},
"fill":{"field":"s","type":"nominal","scale":{"domain":["U","D","T","O"],"range":["black","white","black","white"]},"legend":null}}},
{"data":{"name":"med"},"transform":[{"filter":"datum.p=='D'"},{"calculate":"datum.s+'|-3'","as":"k"},{"calculate":"datum.s+'|3'","as":"k2"}],"mark":{"type":"rule","stroke":"black","strokeWidth":1.5},"encoding":{"x2":{"field":"k2"}}},
{"data":{"name":"sig"},"transform":[{"filter":"datum.p=='D'"},{"calculate":"datum.s1+'|0'","as":"k"},{"calculate":"datum.s2+'|0'","as":"k2"}],"mark":{"type":"rule","stroke":"black","strokeWidth":1.5},"encoding":{"x2":{"field":"k2"}}},
{"data":{"name":"sig"},"transform":[{"filter":"datum.p=='D'"},{"calculate":"datum.s1+'|4'","as":"k"}],"mark":{"type":"text","fontSize":7,"dx":2,"dy":-2,"baseline":"bottom","fill":"#222"},"encoding":{"text":{"field":"lab"}}}
]},
{"width":122,"height":131,"title":{"text":"E","dx":-20,"dy":14},
"encoding":{
"x":{"field":"k","type":"nominal","scale":{"type":"point","padding":0,"domain":["U|-4","U|-3","U|-2","U|-1","U|0","U|1","U|2","U|3","U|4","D|-4","D|-3","D|-2","D|-1","D|0","D|1","D|2","D|3","D|4","T|-4","T|-3","T|-2","T|-1","T|0","T|1","T|2","T|3","T|4","O|-4","O|-3","O|-2","O|-1","O|0","O|1","O|2","O|3","O|4"]},
"axis":{"values":["U|0","D|0","T|0","O|0"],"labelExpr":"datum.value=='U|0'?'UTI89':datum.value=='D|0'?'UTI89ΔfimH':datum.value=='T|0'?'TOP52':'TOP52ΔfimH'","labelAngle":-45,"labelAlign":"right","labelBaseline":"top","labelFontSize":9,"labelFontWeight":"bold","tickSize":4,"labelOverlap":false,"title":null}},
"y":{"field":"v","type":"quantitative","scale":{"type":"linear","domain":[0,65,80,150],"range":[131,26,17,0],"nice":false,"zero":false},
"axis":{"values":[0,10,20,30,40,50,60,100,150],"domain":false,"labelFontWeight":"bold","labelFontSize":9,"labelPadding":2,"title":"# IBCs/Bladder","titleFontSize":10,"titleFontWeight":"bold","titlePadding":5}}},
"layer":[
{"data":{"name":"brk"},"transform":[{"filter":"datum.p=='E'"},{"calculate":"'U|-4'","as":"k"}],"mark":{"type":"rule","stroke":"black","strokeWidth":2},"encoding":{"y2":{"field":"v2"}}},
{"data":{"name":"pts"},"transform":[{"filter":"datum.p=='E'"},{"calculate":"datum.s+'|'+datum.j","as":"k"}],"mark":{"type":"point","filled":true,"stroke":"black","strokeWidth":1.3,"size":55,"opacity":1},
"encoding":{"shape":{"field":"s","type":"nominal","scale":{"domain":["U","D","T","O"],"range":["triangle-up","triangle-up","circle","circle"]},"legend":null},
"fill":{"field":"s","type":"nominal","scale":{"domain":["U","D","T","O"],"range":["black","white","black","white"]},"legend":null}}},
{"data":{"name":"med"},"transform":[{"filter":"datum.p=='E'"},{"calculate":"datum.s+'|-3'","as":"k"},{"calculate":"datum.s+'|3'","as":"k2"}],"mark":{"type":"rule","stroke":"black","strokeWidth":1.5},"encoding":{"x2":{"field":"k2"}}},
{"data":{"name":"sig"},"transform":[{"filter":"datum.p=='E'"},{"calculate":"datum.s1+'|0'","as":"k"},{"calculate":"datum.s2+'|0'","as":"k2"}],"mark":{"type":"rule","stroke":"black","strokeWidth":1.5},"encoding":{"x2":{"field":"k2"}}},
{"data":{"name":"sig"},"transform":[{"filter":"datum.p=='E'"},{"calculate":"datum.s1+'|4'","as":"k"}],"mark":{"type":"text","fontSize":7,"dx":2,"dy":-2,"baseline":"bottom","fill":"#222"},"encoding":{"text":{"field":"lab"}}}
]}
]}
]
}
